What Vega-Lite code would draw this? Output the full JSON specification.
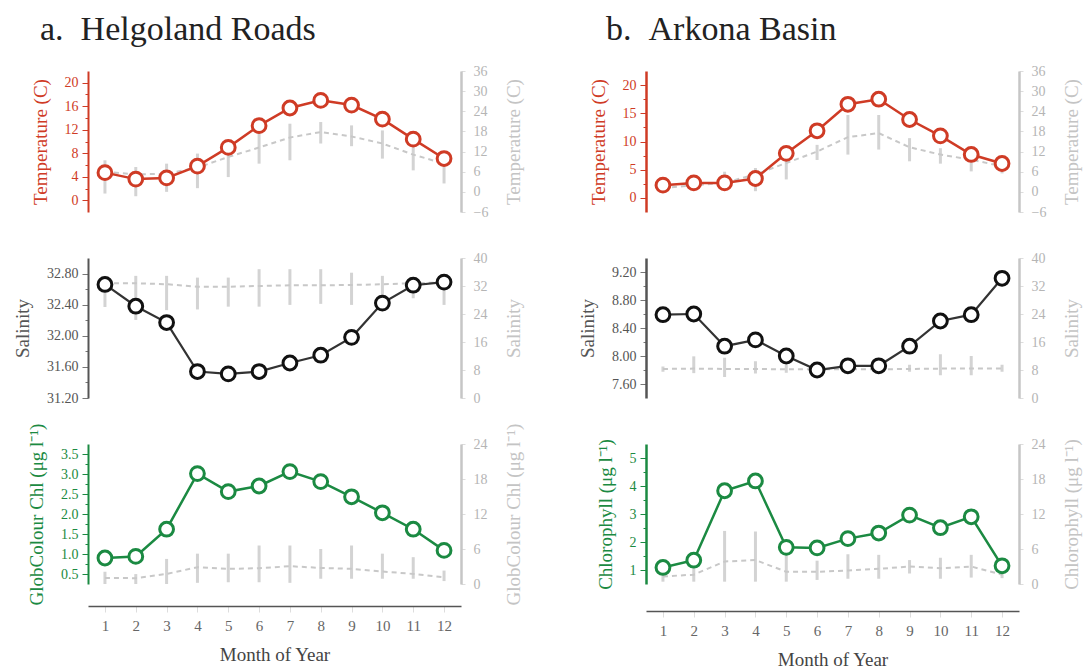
{
  "$schema": "https://vega.github.io/schema/vega-lite/v6.json",
  "padding": {"left": 13, "top": 13, "right": 5, "bottom": 5},
  "bounds": "flush",
  "columns": 2,
  "spacing": {"row": 46, "column": 185},
  "config": {"font": "Liberation Serif", "view": {"stroke": null}, "axis": {"labelOverlap": false, "grid": false, "labelFontSize": 14, "titleFontSize": 19, "titleFontWeight": "normal"}},
  "datasets": {
    "d": [
      {"s":"a","k":"T","month":1,"v":4.7,"g":6.0,"lo":-0.5,"hi":9.4},
      {"s":"a","k":"T","month":2,"v":3.6,"g":5.2,"lo":-1.3,"hi":7.4},
      {"s":"a","k":"T","month":3,"v":3.8,"g":5.4,"lo":0.0,"hi":8.4},
      {"s":"a","k":"T","month":4,"v":5.8,"g":7.2,"lo":1.1,"hi":11.4},
      {"s":"a","k":"T","month":5,"v":9.0,"g":10.4,"lo":4.4,"hi":13.2},
      {"s":"a","k":"T","month":6,"v":12.7,"g":13.2,"lo":8.4,"hi":17.8},
      {"s":"a","k":"T","month":7,"v":15.7,"g":16.2,"lo":9.4,"hi":20.3},
      {"s":"a","k":"T","month":8,"v":17.0,"g":17.8,"lo":14.4,"hi":20.8},
      {"s":"a","k":"T","month":9,"v":16.2,"g":16.5,"lo":13.6,"hi":19.8},
      {"s":"a","k":"T","month":10,"v":13.8,"g":14.4,"lo":9.9,"hi":18.3},
      {"s":"a","k":"T","month":11,"v":10.4,"g":11.1,"lo":6.4,"hi":13.9},
      {"s":"a","k":"T","month":12,"v":7.1,"g":8.4,"lo":2.5,"hi":9.4},
      {"s":"a","k":"S","month":1,"v":32.66,"g":32.8,"lo":26.0,"hi":34.9},
      {"s":"a","k":"S","month":2,"v":32.38,"g":32.8,"lo":22.3,"hi":34.9},
      {"s":"a","k":"S","month":3,"v":32.17,"g":32.5,"lo":25.1,"hi":34.9},
      {"s":"a","k":"S","month":4,"v":31.54,"g":31.8,"lo":25.3,"hi":34.4},
      {"s":"a","k":"S","month":5,"v":31.51,"g":31.8,"lo":26.1,"hi":34.4},
      {"s":"a","k":"S","month":6,"v":31.54,"g":32.0,"lo":26.1,"hi":36.8},
      {"s":"a","k":"S","month":7,"v":31.65,"g":32.2,"lo":26.6,"hi":36.8},
      {"s":"a","k":"S","month":8,"v":31.75,"g":32.2,"lo":26.9,"hi":36.8},
      {"s":"a","k":"S","month":9,"v":31.98,"g":32.3,"lo":26.6,"hi":35.8},
      {"s":"a","k":"S","month":10,"v":32.42,"g":32.5,"lo":27.6,"hi":34.9},
      {"s":"a","k":"S","month":11,"v":32.65,"g":32.8,"lo":28.5,"hi":34.4},
      {"s":"a","k":"S","month":12,"v":32.69,"g":33.0,"lo":26.6,"hi":32.5},
      {"s":"a","k":"C","month":1,"v":0.90,"g":1.04,"lo":0.0,"hi":2.1},
      {"s":"a","k":"C","month":2,"v":0.94,"g":1.0,"lo":0.0,"hi":1.7},
      {"s":"a","k":"C","month":3,"v":1.62,"g":1.73,"lo":0.0,"hi":4.3},
      {"s":"a","k":"C","month":4,"v":3.01,"g":2.88,"lo":0.2,"hi":5.2},
      {"s":"a","k":"C","month":5,"v":2.56,"g":2.6,"lo":0.3,"hi":5.2},
      {"s":"a","k":"C","month":6,"v":2.70,"g":2.7,"lo":0.3,"hi":6.6},
      {"s":"a","k":"C","month":7,"v":3.06,"g":3.05,"lo":0.2,"hi":6.6},
      {"s":"a","k":"C","month":8,"v":2.81,"g":2.76,"lo":0.9,"hi":6.0},
      {"s":"a","k":"C","month":9,"v":2.43,"g":2.6,"lo":0.9,"hi":6.6},
      {"s":"a","k":"C","month":10,"v":2.03,"g":2.14,"lo":0.9,"hi":5.2},
      {"s":"a","k":"C","month":11,"v":1.62,"g":1.73,"lo":0.9,"hi":4.6},
      {"s":"a","k":"C","month":12,"v":1.09,"g":1.15,"lo":0.5,"hi":2.3},
      {"s":"b","k":"T","month":1,"v":2.26,"g":1.2,"lo":0.0,"hi":3.0},
      {"s":"b","k":"T","month":2,"v":2.66,"g":1.9,"lo":0.5,"hi":4.5},
      {"s":"b","k":"T","month":3,"v":2.66,"g":2.7,"lo":0.5,"hi":6.0},
      {"s":"b","k":"T","month":4,"v":3.44,"g":5.2,"lo":0.2,"hi":7.1},
      {"s":"b","k":"T","month":5,"v":7.9,"g":8.6,"lo":3.7,"hi":9.6},
      {"s":"b","k":"T","month":6,"v":11.9,"g":12.0,"lo":9.5,"hi":14.0},
      {"s":"b","k":"T","month":7,"v":16.6,"g":16.3,"lo":11.1,"hi":22.9},
      {"s":"b","k":"T","month":8,"v":17.5,"g":17.5,"lo":12.6,"hi":22.9},
      {"s":"b","k":"T","month":9,"v":13.9,"g":13.3,"lo":9.1,"hi":16.0},
      {"s":"b","k":"T","month":10,"v":11.0,"g":11.1,"lo":8.4,"hi":13.0},
      {"s":"b","k":"T","month":11,"v":7.7,"g":9.6,"lo":6.1,"hi":10.6},
      {"s":"b","k":"T","month":12,"v":6.1,"g":7.6,"lo":5.5,"hi":8.0},
      {"s":"b","k":"S","month":1,"v":8.59,"g":8.3,"lo":7.5,"hi":9.0},
      {"s":"b","k":"S","month":2,"v":8.60,"g":8.4,"lo":7.1,"hi":11.9},
      {"s":"b","k":"S","month":3,"v":8.14,"g":8.3,"lo":6.0,"hi":11.5},
      {"s":"b","k":"S","month":4,"v":8.23,"g":8.3,"lo":7.0,"hi":10.5},
      {"s":"b","k":"S","month":5,"v":8.00,"g":8.2,"lo":7.2,"hi":9.5},
      {"s":"b","k":"S","month":6,"v":7.80,"g":8.2,"lo":7.3,"hi":9.5},
      {"s":"b","k":"S","month":7,"v":7.86,"g":8.2,"lo":7.5,"hi":9.3},
      {"s":"b","k":"S","month":8,"v":7.86,"g":8.2,"lo":7.5,"hi":9.3},
      {"s":"b","k":"S","month":9,"v":8.14,"g":8.3,"lo":7.5,"hi":9.5},
      {"s":"b","k":"S","month":10,"v":8.50,"g":8.4,"lo":6.5,"hi":12.5},
      {"s":"b","k":"S","month":11,"v":8.59,"g":8.4,"lo":6.5,"hi":12.0},
      {"s":"b","k":"S","month":12,"v":9.11,"g":8.4,"lo":7.5,"hi":9.5},
      {"s":"b","k":"C","month":1,"v":1.09,"g":1.3,"lo":0.4,"hi":1.9},
      {"s":"b","k":"C","month":2,"v":1.35,"g":1.6,"lo":0.4,"hi":3.0},
      {"s":"b","k":"C","month":3,"v":3.83,"g":3.85,"lo":0.4,"hi":9.1},
      {"s":"b","k":"C","month":4,"v":4.18,"g":4.1,"lo":0.4,"hi":9.0},
      {"s":"b","k":"C","month":5,"v":1.81,"g":2.1,"lo":0.4,"hi":5.0},
      {"s":"b","k":"C","month":6,"v":1.79,"g":2.1,"lo":0.7,"hi":4.0},
      {"s":"b","k":"C","month":7,"v":2.12,"g":2.3,"lo":0.9,"hi":5.1},
      {"s":"b","k":"C","month":8,"v":2.32,"g":2.6,"lo":0.9,"hi":5.0},
      {"s":"b","k":"C","month":9,"v":2.96,"g":3.0,"lo":1.8,"hi":4.1},
      {"s":"b","k":"C","month":10,"v":2.51,"g":2.7,"lo":0.9,"hi":4.5},
      {"s":"b","k":"C","month":11,"v":2.90,"g":3.0,"lo":1.1,"hi":5.0},
      {"s":"b","k":"C","month":12,"v":1.15,"g":1.6,"lo":1.0,"hi":2.0}
    ]
  },
  "data": {"name": "d"},
  "concat": [
    {
      "title": {"text": "a.\u00a0\u00a0Helgoland Roads", "anchor": "start", "frame": "group", "dx": -48, "offset": 17, "fontSize": 34, "font": "Liberation Serif", "fontWeight": "normal", "color": "#222222"},
      "width": 373, "height": 141,
      "transform": [{"filter": "datum.s === 'a' && datum.k === 'T'"}],
      "encoding": {"x": {"field": "month", "type": "quantitative", "scale": {"domain": [0.45, 12.55], "nice": false, "zero": false}, "axis": null}},
      "layer": [
        {"mark": {"type": "rule", "color": "#d3d3d3", "strokeWidth": 3},
         "encoding": {"y": {"field": "lo", "type": "quantitative", "scale": {"domain": [-6, 36], "nice": false, "zero": false},
           "axis": {"orient": "right", "values": [-6, 0, 6, 12, 18, 24, 30, 36], "title": "Temperature (C)", "titleAngle": 270, "titleBaseline": "top", "domainColor": "#c6c6c6", "domainWidth": 2.5, "tickColor": "#dddddd", "tickSize": 4, "labelColor": "#b5b5b5", "labelPadding": 8, "titleColor": "#c4c4c4", "titlePadding": 17}},
           "y2": {"field": "hi"}}},
        {"mark": {"type": "line", "color": "#c8c8c8", "strokeWidth": 2, "strokeDash": [5, 4]},
         "encoding": {"y": {"field": "g", "type": "quantitative", "scale": {"domain": [-6, 36], "nice": false, "zero": false}, "axis": null}}},
        {"mark": {"type": "line", "color": "#cf3b25", "strokeWidth": 2.5, "point": {"filled": true, "fill": "white", "stroke": "#cf3b25", "strokeWidth": 3, "size": 190, "opacity": 1}},
         "encoding": {"y": {"field": "v", "type": "quantitative", "scale": {"domain": [-2, 22], "nice": false, "zero": false},
           "axis": {"orient": "left", "values": [0, 2, 4, 6, 8, 10, 12, 14, 16, 18, 20], "labelExpr": "datum.value % 4 == 0 ? format(datum.value, 'd') : ''", "title": "Temperature (C)", "domainColor": "#cf3b25", "domainWidth": 2, "tickColor": "#cf3b25", "tickSize": {"condition": {"test": "datum.value % 4 != 0", "value": 3}, "value": 6}, "labelColor": "#cf3b25", "labelPadding": 4, "titleColor": "#cf3b25", "titlePadding": 14}}}}
      ],
      "resolve": {"scale": {"y": "independent"}}
    },
    {
      "title": {"text": "b.\u00a0\u00a0Arkona Basin", "anchor": "start", "frame": "group", "dx": -40, "offset": 17, "fontSize": 34, "font": "Liberation Serif", "fontWeight": "normal", "color": "#222222"},
      "width": 373, "height": 141,
      "transform": [{"filter": "datum.s === 'b' && datum.k === 'T'"}],
      "encoding": {"x": {"field": "month", "type": "quantitative", "scale": {"domain": [0.45, 12.55], "nice": false, "zero": false}, "axis": null}},
      "layer": [
        {"mark": {"type": "rule", "color": "#d3d3d3", "strokeWidth": 3},
         "encoding": {"y": {"field": "lo", "type": "quantitative", "scale": {"domain": [-6, 36], "nice": false, "zero": false},
           "axis": {"orient": "right", "values": [-6, 0, 6, 12, 18, 24, 30, 36], "title": "Temperature (C)", "titleAngle": 270, "titleBaseline": "top", "domainColor": "#c6c6c6", "domainWidth": 2.5, "tickColor": "#dddddd", "tickSize": 4, "labelColor": "#b5b5b5", "labelPadding": 8, "titleColor": "#c4c4c4", "titlePadding": 17}},
           "y2": {"field": "hi"}}},
        {"mark": {"type": "line", "color": "#c8c8c8", "strokeWidth": 2, "strokeDash": [5, 4]},
         "encoding": {"y": {"field": "g", "type": "quantitative", "scale": {"domain": [-6, 36], "nice": false, "zero": false}, "axis": null}}},
        {"mark": {"type": "line", "color": "#cf3b25", "strokeWidth": 2.5, "point": {"filled": true, "fill": "white", "stroke": "#cf3b25", "strokeWidth": 3, "size": 190, "opacity": 1}},
         "encoding": {"y": {"field": "v", "type": "quantitative", "scale": {"domain": [-2.5, 22.5], "nice": false, "zero": false},
           "axis": {"orient": "left", "values": [0, 2.5, 5, 7.5, 10, 12.5, 15, 17.5, 20], "labelExpr": "datum.value % 5 == 0 ? format(datum.value, 'd') : ''", "title": "Temperature (C)", "domainColor": "#cf3b25", "domainWidth": 2.5, "tickColor": "#cf3b25", "tickSize": {"condition": {"test": "datum.value % 5 != 0", "value": 3}, "value": 6}, "labelColor": "#cf3b25", "labelPadding": 4, "titleColor": "#cf3b25", "titlePadding": 14}}}}
      ],
      "resolve": {"scale": {"y": "independent"}}
    },
    {
      "width": 373, "height": 140,
      "transform": [{"filter": "datum.s === 'a' && datum.k === 'S'"}],
      "encoding": {"x": {"field": "month", "type": "quantitative", "scale": {"domain": [0.45, 12.55], "nice": false, "zero": false}, "axis": null}},
      "layer": [
        {"mark": {"type": "rule", "color": "#d3d3d3", "strokeWidth": 3},
         "encoding": {"y": {"field": "lo", "type": "quantitative", "scale": {"domain": [0, 40], "nice": false, "zero": false},
           "axis": {"orient": "right", "values": [0, 8, 16, 24, 32, 40], "title": "Salinity", "titleAngle": 270, "titleBaseline": "top", "domainColor": "#c6c6c6", "domainWidth": 2.5, "tickColor": "#dddddd", "tickSize": 4, "labelColor": "#b5b5b5", "labelPadding": 8, "titleColor": "#c4c4c4", "titlePadding": 17}},
           "y2": {"field": "hi"}}},
        {"mark": {"type": "line", "color": "#c8c8c8", "strokeWidth": 2, "strokeDash": [5, 4]},
         "encoding": {"y": {"field": "g", "type": "quantitative", "scale": {"domain": [0, 40], "nice": false, "zero": false}, "axis": null}}},
        {"mark": {"type": "line", "color": "#333333", "strokeWidth": 2.2, "point": {"filled": true, "fill": "white", "stroke": "#111111", "strokeWidth": 3, "size": 190, "opacity": 1}},
         "encoding": {"y": {"field": "v", "type": "quantitative", "scale": {"domain": [31.2, 33.0], "nice": false, "zero": false},
           "axis": {"orient": "left", "values": [31.2, 31.4, 31.6, 31.8, 32.0, 32.2, 32.4, 32.6, 32.8], "labelExpr": "round(datum.value * 10) % 4 == 0 ? format(datum.value, '.2f') : ''", "title": "Salinity", "domainColor": "#555555", "domainWidth": 2, "tickColor": "#777777", "tickSize": {"condition": {"test": "round(datum.value * 10) % 4 != 0", "value": 3}, "value": 6}, "labelColor": "#555555", "labelPadding": 4, "titleColor": "#555555", "titlePadding": 14}}}}
      ],
      "resolve": {"scale": {"y": "independent"}}
    },
    {
      "width": 373, "height": 140,
      "transform": [{"filter": "datum.s === 'b' && datum.k === 'S'"}],
      "encoding": {"x": {"field": "month", "type": "quantitative", "scale": {"domain": [0.45, 12.55], "nice": false, "zero": false}, "axis": null}},
      "layer": [
        {"mark": {"type": "rule", "color": "#d3d3d3", "strokeWidth": 3},
         "encoding": {"y": {"field": "lo", "type": "quantitative", "scale": {"domain": [0, 40], "nice": false, "zero": false},
           "axis": {"orient": "right", "values": [0, 8, 16, 24, 32, 40], "title": "Salinity", "titleAngle": 270, "titleBaseline": "top", "domainColor": "#c6c6c6", "domainWidth": 2.5, "tickColor": "#dddddd", "tickSize": 4, "labelColor": "#b5b5b5", "labelPadding": 8, "titleColor": "#c4c4c4", "titlePadding": 17}},
           "y2": {"field": "hi"}}},
        {"mark": {"type": "line", "color": "#c8c8c8", "strokeWidth": 2, "strokeDash": [5, 4]},
         "encoding": {"y": {"field": "g", "type": "quantitative", "scale": {"domain": [0, 40], "nice": false, "zero": false}, "axis": null}}},
        {"mark": {"type": "line", "color": "#333333", "strokeWidth": 2.2, "point": {"filled": true, "fill": "white", "stroke": "#111111", "strokeWidth": 3, "size": 190, "opacity": 1}},
         "encoding": {"y": {"field": "v", "type": "quantitative", "scale": {"domain": [7.4, 9.4], "nice": false, "zero": false},
           "axis": {"orient": "left", "values": [7.6, 7.8, 8.0, 8.2, 8.4, 8.6, 8.8, 9.0, 9.2], "labelExpr": "round(datum.value * 10) % 4 == 0 ? format(datum.value, '.2f') : ''", "title": "Salinity", "domainColor": "#555555", "domainWidth": 2.5, "tickColor": "#777777", "tickSize": {"condition": {"test": "round(datum.value * 10) % 4 != 0", "value": 3}, "value": 6}, "labelColor": "#555555", "labelPadding": 4, "titleColor": "#555555", "titlePadding": 14}}}}
      ],
      "resolve": {"scale": {"y": "independent"}}
    },
    {
      "width": 373, "height": 140,
      "transform": [{"filter": "datum.s === 'a' && datum.k === 'C'"}],
      "encoding": {"x": {"field": "month", "type": "quantitative", "scale": {"domain": [0.45, 12.55], "nice": false, "zero": false},
        "axis": {"values": [1, 2, 3, 4, 5, 6, 7, 8, 9, 10, 11, 12], "offset": 22, "domainColor": "#555555", "domainWidth": 1.6, "tickColor": "#dddddd", "tickSize": 6, "labelColor": "#666666", "labelFontSize": 15, "labelPadding": 6, "labelFlush": false, "title": "Month of Year", "titleColor": "#444444", "titlePadding": 12}}},
      "layer": [
        {"mark": {"type": "rule", "color": "#d3d3d3", "strokeWidth": 3},
         "encoding": {"y": {"field": "lo", "type": "quantitative", "scale": {"domain": [0, 24], "nice": false, "zero": false},
           "axis": {"orient": "right", "values": [0, 6, 12, 18, 24], "title": "GlobColour Chl (μg l⁻¹)", "titleAngle": 270, "titleBaseline": "top", "domainColor": "#c6c6c6", "domainWidth": 2.5, "tickColor": "#dddddd", "tickSize": 4, "labelColor": "#b5b5b5", "labelPadding": 8, "titleColor": "#c4c4c4", "titlePadding": 17}},
           "y2": {"field": "hi"}}},
        {"mark": {"type": "line", "color": "#c8c8c8", "strokeWidth": 2, "strokeDash": [5, 4]},
         "encoding": {"y": {"field": "g", "type": "quantitative", "scale": {"domain": [0, 24], "nice": false, "zero": false}, "axis": null}}},
        {"mark": {"type": "line", "color": "#1b8a42", "strokeWidth": 2.5, "point": {"filled": true, "fill": "white", "stroke": "#1b8a42", "strokeWidth": 3, "size": 190, "opacity": 1}},
         "encoding": {"y": {"field": "v", "type": "quantitative", "scale": {"domain": [0.25, 3.75], "nice": false, "zero": false},
           "axis": {"orient": "left", "values": [0.5, 0.75, 1.0, 1.25, 1.5, 1.75, 2.0, 2.25, 2.5, 2.75, 3.0, 3.25, 3.5], "labelExpr": "round(datum.value * 100) % 50 == 0 ? format(datum.value, '.1f') : ''", "title": "GlobColour Chl (μg l⁻¹)", "domainColor": "#1b8a42", "domainWidth": 2, "tickColor": "#1b8a42", "tickSize": {"condition": {"test": "round(datum.value * 100) % 50 != 0", "value": 3}, "value": 6}, "labelColor": "#1b8a42", "labelPadding": 4, "titleColor": "#1b8a42", "titlePadding": 14}}}}
      ],
      "resolve": {"scale": {"y": "independent"}}
    },
    {
      "width": 373, "height": 140,
      "transform": [{"filter": "datum.s === 'b' && datum.k === 'C'"}],
      "encoding": {"x": {"field": "month", "type": "quantitative", "scale": {"domain": [0.45, 12.55], "nice": false, "zero": false},
        "axis": {"values": [1, 2, 3, 4, 5, 6, 7, 8, 9, 10, 11, 12], "offset": 27, "domainColor": "#555555", "domainWidth": 1.6, "tickColor": "#dddddd", "tickSize": 6, "labelColor": "#666666", "labelFontSize": 15, "labelPadding": 6, "labelFlush": false, "title": "Month of Year", "titleColor": "#444444", "titlePadding": 12}}},
      "layer": [
        {"mark": {"type": "rule", "color": "#d3d3d3", "strokeWidth": 3},
         "encoding": {"y": {"field": "lo", "type": "quantitative", "scale": {"domain": [0, 24], "nice": false, "zero": false},
           "axis": {"orient": "right", "values": [0, 6, 12, 18, 24], "title": "Chlorophyll (μg l⁻¹)", "titleAngle": 270, "titleBaseline": "top", "domainColor": "#c6c6c6", "domainWidth": 2.5, "tickColor": "#dddddd", "tickSize": 4, "labelColor": "#b5b5b5", "labelPadding": 8, "titleColor": "#c4c4c4", "titlePadding": 17}},
           "y2": {"field": "hi"}}},
        {"mark": {"type": "line", "color": "#c8c8c8", "strokeWidth": 2, "strokeDash": [5, 4]},
         "encoding": {"y": {"field": "g", "type": "quantitative", "scale": {"domain": [0, 24], "nice": false, "zero": false}, "axis": null}}},
        {"mark": {"type": "line", "color": "#1b8a42", "strokeWidth": 2.5, "point": {"filled": true, "fill": "white", "stroke": "#1b8a42", "strokeWidth": 3, "size": 190, "opacity": 1}},
         "encoding": {"y": {"field": "v", "type": "quantitative", "scale": {"domain": [0.5, 5.5], "nice": false, "zero": false},
           "axis": {"orient": "left", "values": [1, 1.5, 2, 2.5, 3, 3.5, 4, 4.5, 5], "labelExpr": "datum.value % 1 == 0 ? format(datum.value, 'd') : ''", "title": "Chlorophyll (μg l⁻¹)", "domainColor": "#1b8a42", "domainWidth": 2.5, "tickColor": "#1b8a42", "tickSize": {"condition": {"test": "datum.value % 1 != 0", "value": 3}, "value": 6}, "labelColor": "#1b8a42", "labelPadding": 4, "titleColor": "#1b8a42", "titlePadding": 14}}}}
      ],
      "resolve": {"scale": {"y": "independent"}}
    }
  ]
}
